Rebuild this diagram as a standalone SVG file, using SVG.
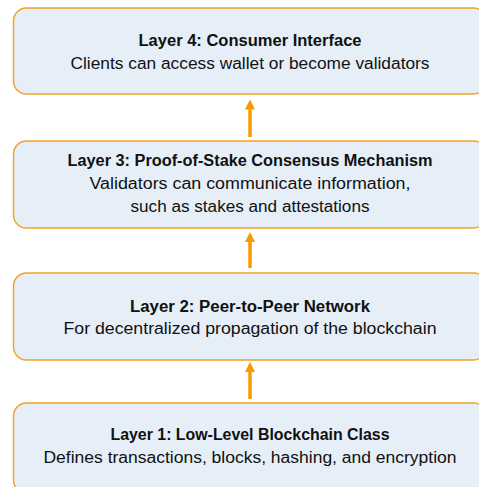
<svg xmlns="http://www.w3.org/2000/svg" width="479" height="487" viewBox="0 0 479 487">
  <style>
    .layer { fill: #e6eff8; stroke: #f4a023; stroke-width: 1.4; }
    .title { font-family: "Liberation Sans", Arial, sans-serif; font-size: 16px; font-weight: bold; fill: #111; text-anchor: middle; }
    .desc { font-family: "Liberation Sans", Arial, sans-serif; font-size: 16px; fill: #111; text-anchor: middle; }
    .link { stroke: #f79a00; stroke-width: 3.5; fill: none; marker-end: url(#head); }
  </style>
  <defs>
    <marker id="head" viewBox="0 0 10 10" refX="0" refY="5" markerUnits="userSpaceOnUse" markerWidth="10" markerHeight="11" orient="auto">
      <path d="M0,0 L10,5 L0,10 z" fill="#f79a00"/>
    </marker>
  </defs>
  <rect width="479" height="487" fill="#ffffff"/>

  <g id="layer4">
    <rect class="layer" x="13.5" y="8" width="473" height="86" rx="13"/>
    <text class="title" x="250" y="46" textLength="223" lengthAdjust="spacingAndGlyphs">Layer 4: Consumer Interface</text>
    <text class="desc" x="250" y="69" textLength="359" lengthAdjust="spacingAndGlyphs">Clients can access wallet or become validators</text>
  </g>

  <g id="layer3">
    <rect class="layer" x="13.5" y="141" width="473" height="87" rx="13"/>
    <text class="title" x="250" y="166" textLength="365" lengthAdjust="spacingAndGlyphs">Layer 3: Proof-of-Stake Consensus Mechanism</text>
    <text class="desc" x="250" y="189" textLength="321" lengthAdjust="spacingAndGlyphs">Validators can communicate information,</text>
    <text class="desc" x="250" y="212" textLength="239" lengthAdjust="spacingAndGlyphs">such as stakes and attestations</text>
  </g>

  <g id="layer2">
    <rect class="layer" x="13.5" y="273" width="473" height="87" rx="13"/>
    <text class="title" x="250" y="312" textLength="240" lengthAdjust="spacingAndGlyphs">Layer 2: Peer-to-Peer Network</text>
    <text class="desc" x="250" y="334" textLength="373" lengthAdjust="spacingAndGlyphs">For decentralized propagation of the blockchain</text>
  </g>

  <g id="layer1">
    <rect class="layer" x="13.5" y="403" width="473" height="90" rx="13"/>
    <text class="title" x="250" y="440" textLength="279" lengthAdjust="spacingAndGlyphs">Layer 1: Low-Level Blockchain Class</text>
    <text class="desc" x="250" y="463" textLength="413" lengthAdjust="spacingAndGlyphs">Defines transactions, blocks, hashing, and encryption</text>
  </g>

  <g id="connectors">
    <line class="link" x1="250" y1="137" x2="250" y2="109.5"/>
    <line class="link" x1="250" y1="268" x2="250" y2="242"/>
    <line class="link" x1="250" y1="399" x2="250" y2="372"/>
  </g>
</svg>
